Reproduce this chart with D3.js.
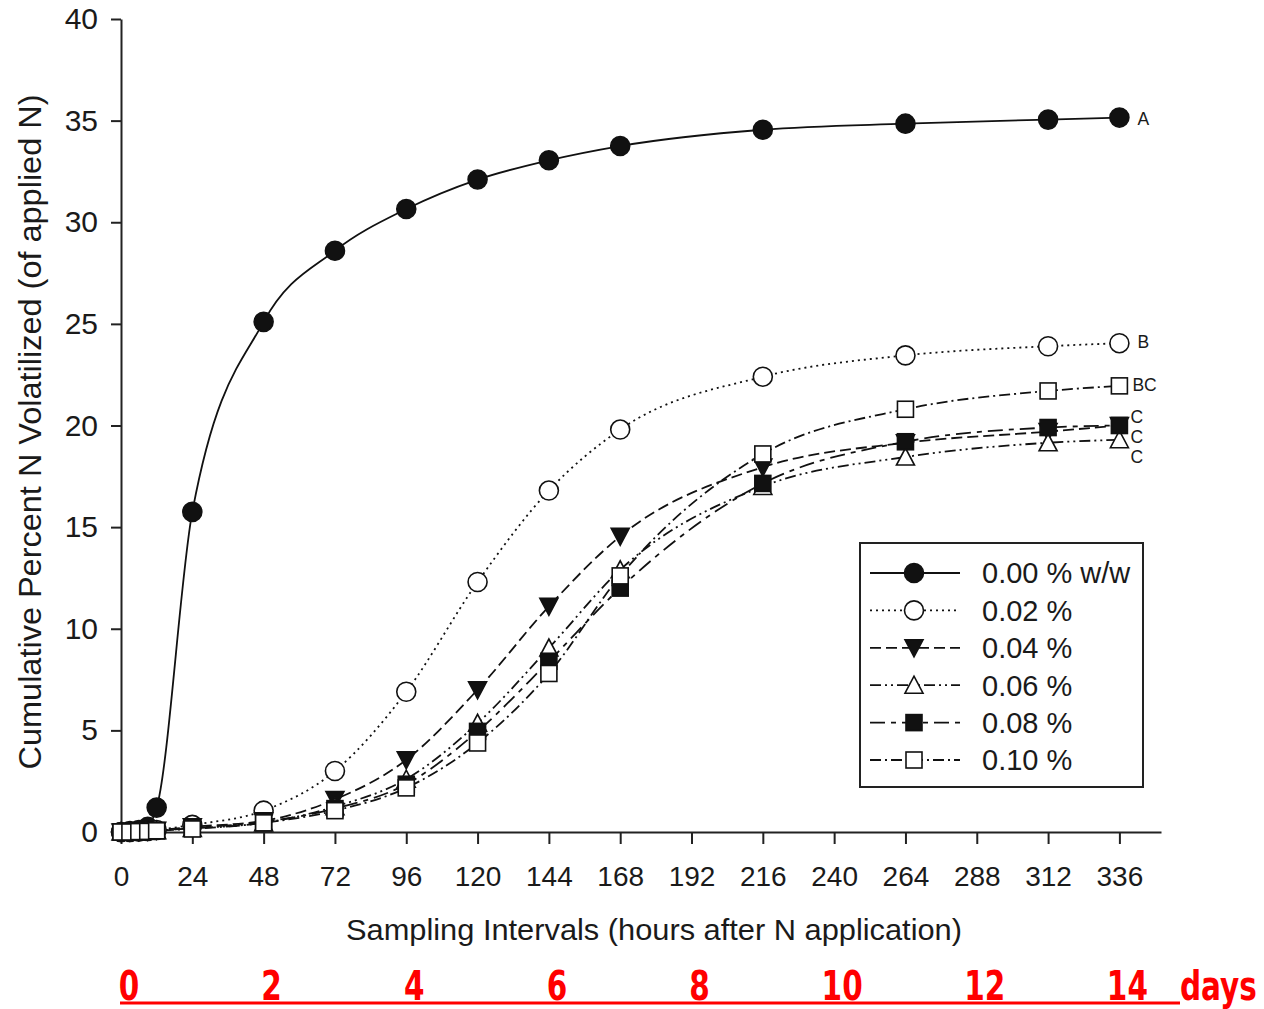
<!DOCTYPE html>
<html>
<head>
<meta charset="utf-8">
<script src="https://cdn.jsdelivr.net/npm/d3@7"></script>
<style>
  body { margin: 0; background: #fff; }
  svg text { font-family: "Liberation Sans", Arial, sans-serif; fill: #1a1a1a; }
  .axis path, .axis line { stroke: #222; stroke-width: 2; }
  .axis text { font-size: 28px; }
  .ylab text { font-size: 30px; }
</style>
</head>
<body>
<svg id="chart" width="1264" height="1009"></svg>
<script>
// sampling times (hours after N application)
var hours = [0, 3, 6, 9, 12, 24, 48, 72, 96, 120, 144, 168, 216, 264, 312, 336];

// cumulative percent N volatilized, one array per treatment
var s000 = [0, 0.05, 0.1, 0.25, 1.2, 15.75, 25.1, 28.6, 30.65, 32.1, 33.05, 33.75, 34.55, 34.85, 35.05, 35.15];
var s002 = [0, 0, 0.02, 0.05, 0.1, 0.35, 1.05, 3.0, 6.9, 12.3, 16.8, 19.8, 22.4, 23.45, 23.9, 24.05];
var s004 = [0, 0, 0.02, 0.04, 0.08, 0.25, 0.55, 1.6, 3.55, 7.0, 11.1, 14.55, 17.95, 19.15, 19.7, 20.0];
var s006 = [0, 0, 0.02, 0.04, 0.07, 0.18, 0.45, 1.25, 2.6, 5.35, 9.05, 12.9, 17.0, 18.45, 19.15, 19.3];
var s008 = [0, 0, 0.02, 0.04, 0.07, 0.2, 0.5, 1.15, 2.35, 4.95, 8.4, 12.0, 17.15, 19.2, 19.9, 20.0];
var s010 = [0, 0, 0.02, 0.03, 0.06, 0.15, 0.45, 1.05, 2.17, 4.38, 7.8, 12.6, 18.6, 20.8, 21.7, 21.95];

var seriesNames = ["0.00 % w/w", "0.02 %", "0.04 %", "0.06 %", "0.08 %", "0.10 %"];
var seriesValues = [s000, s002, s004, s006, s008, s010];

// significance letters at the end of the curves and the value each one sits at
var letters = ["A", "B", "BC", "C", "C", "C"];
var letterAt = [35.1, 24.1, 22.0, 20.45, 19.45, 18.45];

var xTicks = d3.range(0, 337, 24);
var yTicks = d3.range(0, 41, 5);
var dayTicks = [0, 2, 4, 6, 8, 10, 12, 14];

var svg = d3.select("#chart");

var x = d3.scaleLinear().domain([0, 350]).range([121, 1161]);
var y = d3.scaleLinear().domain([0, 40]).range([832, 19]);

// line / marker styles per series
var dashes = ["none", "2,4", "11,5", "11,4,2,4,2,4", "15,6,5,6", "11,4,2,4"];
var shapes = ["circle", "circle", "tridown", "triup", "square", "square"];
var fills = ["#111", "#fff", "#111", "#fff", "#111", "#fff"];

function marker(sel, i) {
  var s = shapes[i];
  if (s === "circle") {
    sel.append("circle").attr("r", 9.5);
  } else if (s === "square") {
    sel.append("rect").attr("x", -8).attr("y", -8).attr("width", 16).attr("height", 16);
  } else if (s === "tridown") {
    sel.append("path").attr("d", "M-9,-8L9,-8L0,9Z");
  } else {
    sel.append("path").attr("d", "M-9,8L9,8L0,-9Z");
  }
  sel.selectAll("*")
    .attr("fill", fills[i])
    .attr("stroke", "#111")
    .attr("stroke-width", 1.6);
}

// axes
svg.append("g")
  .attr("class", "axis")
  .attr("transform", "translate(0," + y(0) + ")")
  .call(d3.axisBottom(x).tickValues(xTicks).tickSize(12).tickSizeOuter(0).tickPadding(22));

svg.append("g")
  .attr("class", "axis ylab")
  .attr("transform", "translate(" + x(0) + ",0)")
  .call(d3.axisLeft(y).tickValues(yTicks).tickSize(10).tickSizeOuter(0).tickPadding(13));

svg.append("text")
  .attr("x", 654).attr("y", 940)
  .attr("text-anchor", "middle")
  .attr("textLength", 616)
  .attr("lengthAdjust", "spacingAndGlyphs")
  .style("font-size", "30px")
  .text("Sampling Intervals (hours after N application)");

svg.append("text")
  .attr("transform", "translate(41,432) rotate(-90)")
  .attr("text-anchor", "middle")
  .attr("textLength", 675)
  .attr("lengthAdjust", "spacingAndGlyphs")
  .style("font-size", "31px")
  .text("Cumulative Percent N Volatilized (of applied N)");

// curves
var line = d3.line()
  .x(function (d) { return x(d[0]); })
  .y(function (d) { return y(d[1]); })
  .curve(d3.curveMonotoneX);

seriesValues.forEach(function (vals, i) {
  var pts = hours.map(function (h, k) { return [h, vals[k]]; });
  svg.append("path")
    .attr("d", line(pts))
    .attr("fill", "none")
    .attr("stroke", "#111")
    .attr("stroke-width", 1.8)
    .attr("stroke-dasharray", dashes[i]);
});

seriesValues.forEach(function (vals, i) {
  svg.append("g").selectAll("g")
    .data(hours)
    .enter().append("g")
    .attr("transform", function (h, k) { return "translate(" + x(h) + "," + y(vals[k]) + ")"; })
    .each(function () { marker(d3.select(this), i); });
});

// letters
svg.append("g").selectAll("text")
  .data(letters)
  .enter().append("text")
  .attr("x", function (d) { return x(336) + (d === "BC" ? 13 : (d === "C" ? 11 : 18)); })
  .attr("y", function (d, i) { return y(letterAt[i]); })
  .attr("dy", "0.36em")
  .style("font-size", "17.5px")
  .text(function (d) { return d; });

// legend
var legend = svg.append("g").attr("transform", "translate(860,543)");
legend.append("rect")
  .attr("width", 283).attr("height", 244)
  .attr("fill", "#fff").attr("stroke", "#222").attr("stroke-width", 2);

seriesNames.forEach(function (name, i) {
  var row = legend.append("g").attr("transform", "translate(0," + (30 + i * 37.4) + ")");
  row.append("line")
    .attr("x1", 10).attr("x2", 100)
    .attr("stroke", "#111").attr("stroke-width", 1.8)
    .attr("stroke-dasharray", dashes[i]);
  var m = row.append("g").attr("transform", "translate(54,0)");
  marker(m, i);
  row.append("text")
    .attr("x", 122).attr("dy", "0.36em")
    .style("font-size", "29px")
    .text(name);
});

// days scale drawn under the chart
var dayFont = "'DejaVu Sans Condensed', 'Liberation Sans', sans-serif";
var days = svg.append("g");
days.append("line")
  .attr("x1", 120).attr("x2", 1180)
  .attr("y1", 1003).attr("y2", 1003)
  .attr("stroke", "#ff0000").attr("stroke-width", 3);

days.selectAll("text.day")
  .data(dayTicks)
  .enter().append("text")
  .attr("class", "day")
  .attr("transform", function (d) { return "translate(" + (x(d * 24) + 8) + ",1000) scale(0.8,1)"; })
  .attr("text-anchor", "middle")
  .style("font-family", dayFont)
  .style("font-weight", "bold")
  .style("font-size", "41px")
  .style("fill", "#ff0000")
  .text(function (d) { return d; });

days.append("text")
  .attr("transform", "translate(1180,1000) scale(0.8,1)")
  .style("font-family", dayFont)
  .style("font-weight", "bold")
  .style("font-size", "41px")
  .style("fill", "#ff0000")
  .text("days");
</script>
</body>
</html>
